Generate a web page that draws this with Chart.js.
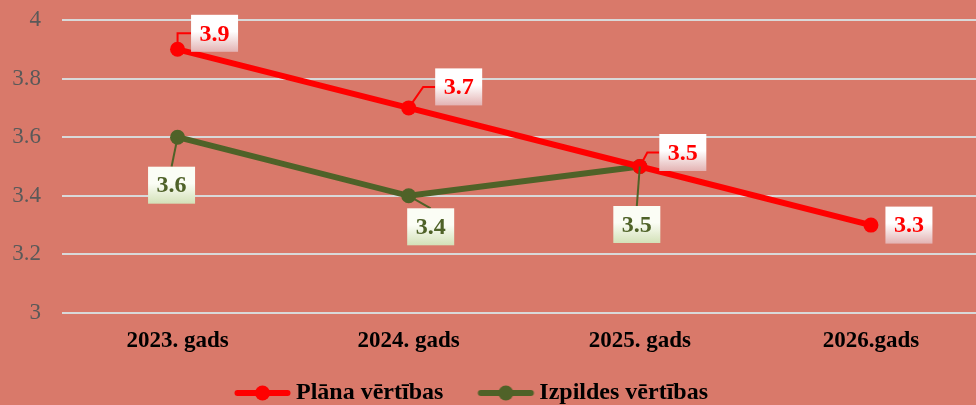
<!DOCTYPE html>
<html><head><meta charset="utf-8">
<script src="https://cdn.jsdelivr.net/npm/chart.js@4/dist/chart.umd.min.js"></script>
<style>html,body{margin:0;padding:0;overflow:hidden;background:#D9796A;width:976px;height:405px}#wrap{width:994px;height:405px}</style>
</head><body><div id="wrap"><canvas id="c" width="994" height="405"></canvas></div>
<script>
const categories = ["2023. gads", "2024. gads", "2025. gads", "2026.gads"];
const planValues = [3.9, 3.7, 3.5, 3.3];
const izpildesValues = [3.6, 3.4, 3.5, null];
const yTicks = [3, 3.2, 3.4, 3.6, 3.8, 4];

const RED = "#FF0000", GREEN = "#4F6228";
const SERIF = "'Liberation Serif', 'Times New Roman', serif";

function legendIcon(color){
  const cv = document.createElement('canvas');
  cv.width = 80; cv.height = 16;
  const g = cv.getContext('2d');
  g.strokeStyle = color; g.lineWidth = 6; g.lineCap = 'round';
  g.beginPath(); g.moveTo(25.5,8); g.lineTo(75.5,8); g.stroke();
  g.fillStyle = color; g.beginPath(); g.arc(50.5,8,7.5,0,Math.PI*2); g.fill();
  return cv;
}

const labelStyle = [
  { text: RED, top: "#FFFFFF", bottom: "#E3B3B3",
    offsets: [[37,-16],[50,-21],[43,-14],[38,0]] },
  { text: GREEN, top: "#FBFDF5", bottom: "#D3E1B8",
    offsets: [[-6,48],[22,31],[-3,58],null] }
];

const labelPlugin = {
  id: 'boxLabels',
  afterDatasetsDraw(chart){
    const ctx = chart.ctx;
    chart.data.datasets.forEach((ds, di) => {
      const meta = chart.getDatasetMeta(di);
      const st = labelStyle[di];
      meta.data.forEach((pt, i) => {
        const v = ds.data[i];
        if (v === null || v === undefined) return;
        const off = st.offsets[i]; if (!off) return;
        const w = 47, h = 37;
        const cx = pt.x + off[0], cy = pt.y + off[1];
        const bx = cx - w/2, by = cy - h/2;
        ctx.save();
        ctx.strokeStyle = st.text; ctx.lineWidth = 2;
        if (di === 0 && i < 3) {
          ctx.beginPath();
          if (i === 0) { ctx.moveTo(pt.x, pt.y); ctx.lineTo(pt.x, cy); ctx.lineTo(bx, cy); }
          else { ctx.moveTo(pt.x, pt.y); ctx.lineTo(bx - 12, cy); ctx.lineTo(bx, cy); }
          ctx.stroke();
        } else if (di === 1) {
          ctx.beginPath(); ctx.moveTo(pt.x, pt.y); ctx.lineTo(cx, by); ctx.stroke();
        }
        const gr = ctx.createLinearGradient(0, by, 0, by + h);
        gr.addColorStop(0, st.top); gr.addColorStop(0.45, st.top); gr.addColorStop(1, st.bottom);
        ctx.fillStyle = gr;
        ctx.fillRect(bx, by, w, h);
        ctx.fillStyle = st.text;
        ctx.font = "bold 24px " + SERIF;
        ctx.textAlign = 'center'; ctx.textBaseline = 'middle';
        ctx.fillText(String(v), cx, cy + 1);
        ctx.restore();
      });
    });
  }
};

const bgPlugin = {
  id: 'bg',
  beforeDraw(chart){
    const c = chart.ctx; c.save(); c.fillStyle = "#D9796A";
    c.fillRect(0,0,chart.width,chart.height); c.restore();
  }
};

const legendShift = {
  id: 'legendShift',
  afterLayout(chart){
    if (chart.legend) { chart.legend.left -= 33; chart.legend.right -= 33; }
  }
};

new Chart(document.getElementById('c'), {
  type: 'line',
  data: {
    labels: categories,
    datasets: [
      { label: "Plāna vērtības", data: planValues, borderColor: RED, backgroundColor: RED,
        borderWidth: 6, pointRadius: 7.5, pointBackgroundColor: RED, pointBorderWidth: 0,
        pointStyle: 'circle', tension: 0 },
      { label: "Izpildes vērtības", data: izpildesValues, borderColor: GREEN, backgroundColor: GREEN,
        borderWidth: 6, pointRadius: 7.5, pointBackgroundColor: GREEN, pointBorderWidth: 0,
        pointStyle: 'circle', tension: 0 }
    ]
  },
  options: {
    responsive: false, animation: false,
    layout: { padding: { top: 20, right: 0, left: 0, bottom: -10 } },
    plugins: {
      tooltip: { enabled: false },
      legend: {
        position: 'bottom',
        labels: {
          usePointStyle: true, pointStyleWidth: 64,
          generateLabels(chart){
            return chart.data.datasets.map((d, i) => ({
              text: d.label, pointStyle: legendIcon(d.borderColor), fontColor: '#000',
              datasetIndex: i, hidden: false, lineWidth: 0, strokeStyle: d.borderColor, fillStyle: d.borderColor
            }));
          },
          color: '#000', font: { family: SERIF, size: 24, weight: 'bold', lineHeight: 1 }, padding: 20
        }
      }
    },
    scales: {
      x: {
        offset: true,
        grid: { display: false, drawTicks: false }, border: { display: false },
        ticks: { color: '#000', font: { family: SERIF, size: 23, weight: 'bold' }, padding: 14 },
        afterFit(s){ s.height = 48; }
      },
      y: {
        min: 3, max: 4,
        afterBuildTicks(s){ s.ticks = yTicks.map(v => ({ value: v })); },
        grid: { color: '#D9D9D9', lineWidth: 2, drawTicks: false },
        border: { display: false },
        ticks: { color: '#595959', font: { family: SERIF, size: 23 }, padding: 21,
          callback: v => String(Math.round(v*10)/10) },
        afterFit(s){ s.width = 62; s.paddingTop = 0; s.paddingBottom = 0; }
      }
    }
  },
  plugins: [bgPlugin, legendShift, labelPlugin]
});
</script></body></html>
